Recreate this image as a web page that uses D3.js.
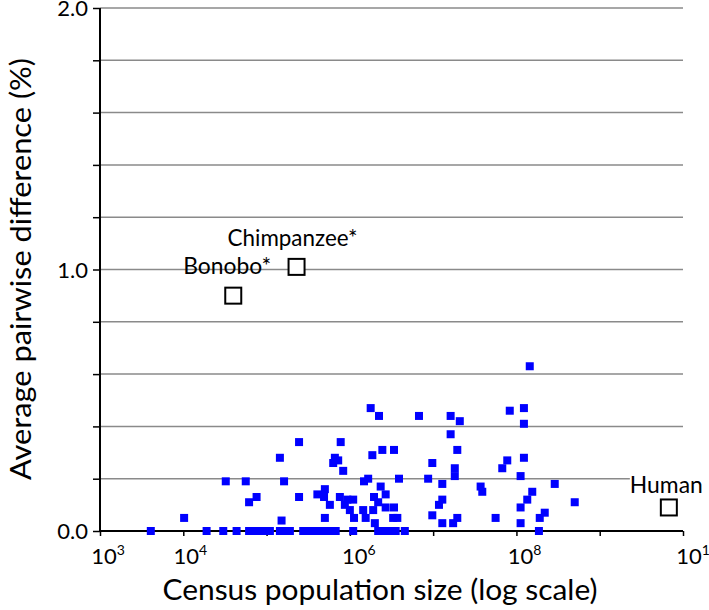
<!DOCTYPE html>
<html>
<head>
<meta charset="utf-8">
<script src="https://cdn.jsdelivr.net/npm/d3@7"></script>
<style>
  html, body { margin: 0; padding: 0; background: #fff; }
  svg { display: block; font-family: Lato, "Noto Sans", sans-serif; }
</style>
</head>
<body>
<svg id="chart" width="709" height="610"></svg>
<script>
// ---------- DATA ----------
// log10(census population size) and average pairwise difference (%) per species
const speciesLogPop = [
  3.61,4.28,4.48,4.64,4.79,4.85,4.91,4.98,5.04,5.16,5.22,5.28,5.44,5.50,5.56,5.62,5.68,5.76,5.83,6.04,6.34,6.42,6.49,6.55,6.66,8.27,
  4.01,4.51,4.75,4.79,4.88,5.16,5.18,5.21,5.39,5.39,5.61,5.70,5.69,5.70,5.76,5.80,5.82,5.86,5.89,5.92,
  5.88,5.97,6.04,5.94,6.00,6.05,6.16,6.19,6.17,6.22,6.25,6.35,6.27,6.28,6.29,6.30,6.34,6.37,6.43,6.39,
  6.53,6.43,6.53,6.52,6.57,6.59,6.83,6.94,6.99,6.99,7.07,7.11,7.11,7.11,7.21,7.32,7.21,7.29,7.26,7.26,
  7.24,7.29,7.57,7.59,7.75,7.83,7.89,7.92,8.09,8.09,8.09,8.05,8.05,8.05,8.13,8.19,8.16,8.28,8.34,8.46,8.70
];
const speciesDiff = [
  0,0,0,0,0,0,0,0,0,0,0,0,0,0,0,0,0,0,0,0,0,0,0,0,0,0,
  0.05,0.19,0.19,0.11,0.13,0.28,0.04,0.19,0.34,0.13,0.14,0.16,0.13,0.05,0.10,0.26,0.28,0.27,0.34,0.23,
  0.13,0.12,0.12,0.10,0.08,0.05,0.08,0.05,0.19,0.20,0.47,0.44,0.29,0.08,0.13,0.03,0.11,0.17,0.14,0.31,
  0.31,0.09,0.09,0.05,0.05,0.20,0.44,0.20,0.26,0.06,0.10,0.12,0.18,0.03,0.44,0.42,0.37,0.31,0.24,0.21,
  0.03,0.05,0.17,0.15,0.05,0.24,0.27,0.46,0.47,0.41,0.28,0.21,0.09,0.03,0.12,0.15,0.63,0.05,0.07,0.18,0.11
];
const apeNames  = ["Bonobo*", "Chimpanzee*", "Human"];
const apeLogPop = [4.60, 5.36, 9.83];
const apeDiff   = [0.90, 1.01, 0.09];

const xTickExponents   = [3, 4, 5, 6, 7, 8, 9, 10];
const xLabelExponents  = [3, 4, 6, 8, 10];
const yTickValues      = [0, 0.2, 0.4, 0.6, 0.8, 1.0, 1.2, 1.4, 1.6, 1.8, 2.0];
const yLabelValues     = [0, 1.0, 2.0];
const xTitle = "Census population size (log scale)";
const yTitle = "Average pairwise difference (%)";

// ---------- LAYOUT ----------
const plot = { left: 100, right: 683, top: 8, bottom: 531 };
const apeLabelLayout = {
  "Bonobo*":     { dx: -50, dy: -22, len: 88 },
  "Chimpanzee*": { dx: -69, dy: -21, len: 130 },
  "Human":       { dx: -39, dy: -14, len: 73 }
};
const xLabelShift = { 3: 4, 4: 3, 6: 5, 8: 4, 10: 6 };

const svg = d3.select("#chart");
const x = d3.scaleLog().domain([1e3, 1e10]).range([plot.left, plot.right]);
const y = d3.scaleLinear().domain([0, 2]).range([plot.bottom, plot.top]);

// gridlines
svg.append("g").selectAll("line")
  .data(yTickValues.filter(v => v > 0))
  .join("line")
  .attr("x1", plot.left).attr("x2", plot.right)
  .attr("y1", d => y(d)).attr("y2", d => y(d))
  .attr("stroke", "#8a8a8a").attr("stroke-width", 1.5);

// y axis
const yAxis = d3.axisLeft(y).tickValues(yTickValues).tickSize(7)
  .tickFormat(d => yLabelValues.some(v => Math.abs(v - d) < 1e-9) ? d3.format(".1f")(d) : "");
const gy = svg.append("g").attr("transform", `translate(${plot.left},0)`).call(yAxis);
gy.select(".domain").attr("stroke", "#000").attr("stroke-width", 2).attr("d", `M0,${plot.top}V${plot.bottom}`);
gy.selectAll(".tick line").attr("stroke", "#000").attr("stroke-width", 1.5);
gy.selectAll(".tick text").attr("font-size", 22).attr("font-family", "Lato, sans-serif")
  .attr("fill", "#000").attr("x", -12).attr("dy", "0.36em");

// x axis
const xAxis = d3.axisBottom(x).tickValues(xTickExponents.map(e => Math.pow(10, e))).tickSize(5).tickFormat("");
const gx = svg.append("g").attr("transform", `translate(0,${plot.bottom})`).call(xAxis);
gx.select(".domain").attr("stroke", "#000").attr("stroke-width", 2).attr("d", `M${plot.left},0H${plot.right}`);
gx.selectAll(".tick line").attr("stroke", "#000").attr("stroke-width", 1.5);

// x tick labels: "10" centred under its tick, exponent as superscript
const xl = svg.append("g").attr("font-size", 22).attr("fill", "#000");
xLabelExponents.forEach(e => {
  const t = xl.append("text").attr("y", 564);
  const base = t.append("tspan").text("10");
  t.append("tspan").attr("font-size", 14).attr("dy", -9).text(e);
  const w = base.node().getComputedTextLength();
  t.attr("x", x(Math.pow(10, e)) - w / 2 + xLabelShift[e]);
});

// axis titles
svg.append("text").attr("x", 380).attr("y", 600).attr("text-anchor", "middle")
  .attr("font-size", 29).attr("fill", "#000")
  .attr("textLength", 435).attr("lengthAdjust", "spacingAndGlyphs").text(xTitle);
svg.append("text").attr("transform", "translate(31,269) rotate(-90)").attr("text-anchor", "middle")
  .attr("font-size", 28).attr("fill", "#000")
  .attr("textLength", 422).attr("lengthAdjust", "spacingAndGlyphs").text(yTitle);

// species points
svg.append("g").selectAll("rect")
  .data(speciesLogPop.map((v, i) => ({ lp: v, d: speciesDiff[i] })))
  .join("rect")
  .attr("x", p => x(Math.pow(10, p.lp)) - 4)
  .attr("y", p => y(p.d) - 4)
  .attr("width", 8).attr("height", 8)
  .attr("fill", "#0000ff");

// great apes
const apes = apeNames.map((n, i) => ({ name: n, lp: apeLogPop[i], d: apeDiff[i] }));
const ag = svg.append("g");
apes.forEach(a => {
  const cx = x(Math.pow(10, a.lp)), cy = y(a.d);
  const L = apeLabelLayout[a.name];
  const t = ag.append("text").attr("x", cx + L.dx).attr("y", cy + L.dy)
    .attr("font-size", 23).attr("fill", "#000")
    .attr("textLength", L.len).attr("lengthAdjust", "spacingAndGlyphs").text(a.name);
  if (a.name === "Human") {
    const bb = t.node().getBBox();
    ag.insert("rect", "text").attr("x", bb.x).attr("y", bb.y + 2).attr("width", bb.width).attr("height", bb.height - 4).attr("fill", "#fff");
  }
  ag.append("rect").attr("x", cx - 8).attr("y", cy - 8).attr("width", 16).attr("height", 16)
    .attr("fill", "#fff").attr("stroke", "#000").attr("stroke-width", 2);
});
</script>
</body>
</html>
